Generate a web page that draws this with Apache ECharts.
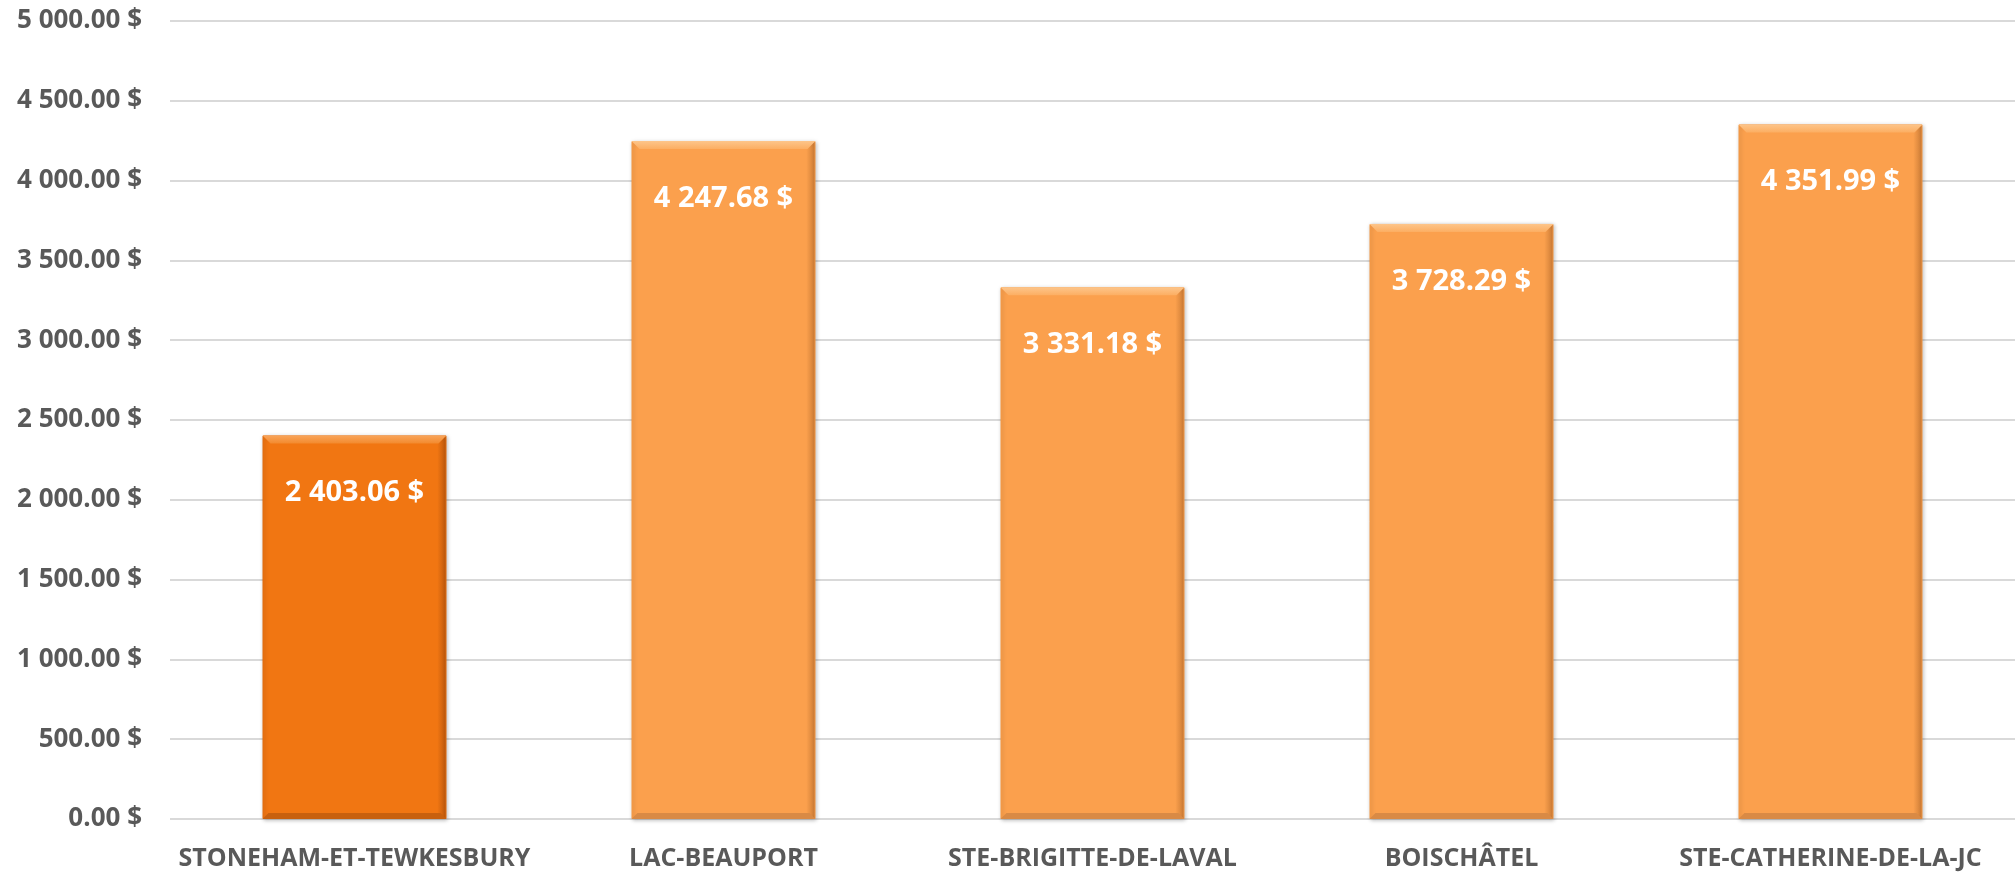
<!DOCTYPE html>
<html>
<head>
<meta charset="utf-8">
<script src="https://cdn.jsdelivr.net/npm/echarts@6/dist/echarts.min.js"></script>
<style>
html,body{margin:0;padding:0;background:#fff;}
#chart{width:2015px;height:873px;}
</style>
</head>
<body>
<div id="chart"></div>
<script>
const categories = ["STONEHAM-ET-TEWKESBURY", "LAC-BEAUPORT", "STE-BRIGITTE-DE-LAVAL", "BOISCHÂTEL", "STE-CATHERINE-DE-LA-JC"];
const values = [2403.06, 4247.68, 3331.18, 3728.29, 4351.99];
const highlightIndex = 0;
const yMin = 0, yMax = 5000, yStep = 500;

function fmt(v) {
  const parts = Number(v).toFixed(2).split('.');
  parts[0] = parts[0].replace(/\B(?=(\d{3})+(?!\d))/g, ' ');
  return parts[0] + '.' + parts[1] + ' $';
}

function barColor(base, dark) {
  return new echarts.graphic.LinearGradient(0, 0, 1, 0, [
    {offset: 0, color: base},
    {offset: 0.95, color: base},
    {offset: 1, color: dark}
  ]);
}

const BAR_W = 184;
const chart = echarts.init(document.getElementById('chart'));
chart.setOption({
  animation: false,
  grid: {left: 170, right: -7, top: 21, bottom: 54, containLabel: false},
  xAxis: {
    type: 'category',
    data: categories,
    axisLine: {show: false},
    axisTick: {show: false},
    axisLabel: {
      color: '#595959', fontFamily: 'Open Sans', fontWeight: 'bold', fontSize: 25,
      margin: 27, interval: 0
    }
  },
  yAxis: {
    type: 'value',
    min: yMin, max: yMax, interval: yStep,
    axisLine: {show: false},
    axisTick: {show: false},
    splitLine: {lineStyle: {color: '#D9D9D9', width: 2}},
    axisLabel: {
      color: '#595959', fontFamily: 'Open Sans', fontWeight: 'bold', fontSize: 26,
      margin: 28, formatter: fmt
    }
  },
  series: [{
    type: 'bar',
    barWidth: BAR_W,
    data: values.map((v, i) => ({
      value: v,
      itemStyle: {
        color: i === highlightIndex ? barColor('#F17612', '#B9560C') : barColor('#FBA04D', '#C97A35'),
        borderColor: i === highlightIndex ? '#E06D10' : '#F39845',
        borderWidth: 1,
        shadowColor: 'rgba(0,0,0,0.25)', shadowBlur: 4, shadowOffsetX: 1, shadowOffsetY: 1
      }
    })),
    label: {
      show: true, position: 'insideTop', distance: 43,
      color: '#FFFFFF', fontFamily: 'Open Sans', fontWeight: 'bold', fontSize: 29,
      formatter: p => fmt(p.value)
    }
  }, {
    type: 'custom',
    silent: true,
    z: 3,
    data: values.map((v, i) => [i, v]),
    renderItem: function (params, api) {
      const i = api.value(0);
      const topPt = api.coord([i, api.value(1)]);
      const botPt = api.coord([i, 0]);
      const l = topPt[0] - BAR_W / 2, r = topPt[0] + BAR_W / 2;
      const t = topPt[1], b = botPt[1];
      const hi = i === highlightIndex;
      const d = 8;
      return {
        type: 'group',
        children: [{
          type: 'polygon',
          shape: {points: [[l, t], [r, t], [r - d, t + d], [l + d, t + d]]},
          style: {fill: new echarts.graphic.LinearGradient(0, 0, 0, 1, [
            {offset: 0, color: hi ? '#F9A55A' : '#FDC58A'},
            {offset: 1, color: hi ? '#F38A2E' : '#FCAE62'}
          ])}
        }, {
          type: 'polygon',
          shape: {points: [[l, b], [r, b], [r - 6, b - 6], [l + 6, b - 6]]},
          style: {fill: hi ? '#C8600E' : '#D98A45'}
        }]
      };
    }
  }]
});
</script>
</body>
</html>
